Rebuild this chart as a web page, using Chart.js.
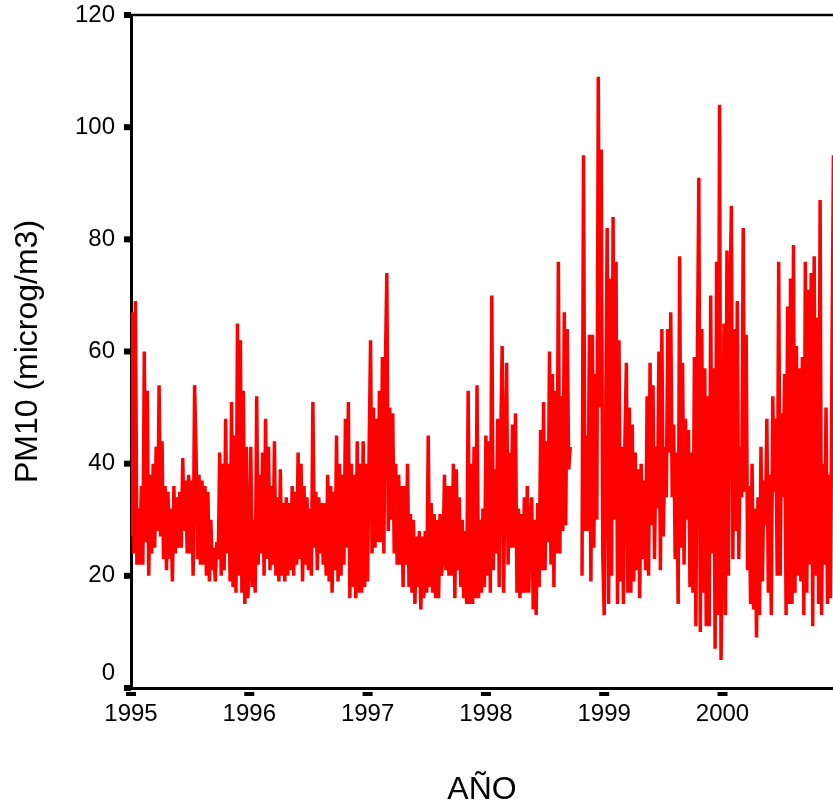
<!DOCTYPE html>
<html>
<head>
<meta charset="utf-8">
<script src="https://cdn.jsdelivr.net/npm/chart.js@4.4.1/dist/chart.umd.min.js"></script>
<style>
  html, body { margin: 0; padding: 0; background: #fff; }
  canvas { display: block; }
</style>
</head>
<body>
<canvas id="c" width="833" height="804"></canvas>
<script>
// ---- Data (PM10, microg/m3) ----
const years = [1995, 1996, 1997, 1998, 1999, 2000];
const samplesPerYear = 80;

const pm1995 = [27,67,24,69,22,32,22,36, 22,60,26,53,20,38,24,40, 25,43,28,54,27,44,23,36,
                21,35,23,32,19,36,24,34, 25,35,25,41,28,37,24,38, 24,37,20,54,42,23,38,22,
                37,22,36,20,35,19,30,21, 25,19,26,23,42,20,40,21, 48,24,40,19,51,18,45,17,
                65,20,62,17,53,15,43,16];
const pm1996 = [22,43,18,30,17,52,22,38, 24,42,20,48,23,43,21,36, 22,44,20,34,19,39,20,33,
                19,34,20,33,21,36,20,35, 22,42,23,40,19,36,22,34, 21,32,20,51,25,35,21,34,
                24,33,22,33,20,38,19,36, 17,35,21,45,19,40,20,38, 22,48,25,51,16,40,18,38,
                16,44,17,40,17,44,18,40];
const pm1997 = [19,42,62,24,50,25,48,26, 53,26,59,24,57,74,28,50, 30,49,24,40,22,38,22,36,
                18,36,22,40,18,31,17,30, 15,27,18,28,14,27,16,28, 17,45,18,33,17,31,16,30,
                16,31,20,24,38,21,36,20, 36,20,40,16,39,21,34,18, 30,16,28,15,53,15,40,15,
                43,16,54,16,30,17,32,18];
const pm1998 = [45,20,44,17,70,21,39,24,48,18, 44,61,17,40,58,22,42,25,47,25,
                49,17,32,16,31,17,34,17,36,17, 30,34,14,30,13,33,18,46,21,51,
                21,44,26,60,22,56,18,53,24,76, 24,52,28,67,29,64,39,43,null,null,
                null,null,null,null,null,20,95,28,45,28, 63,19,63,25,56,30,109,50,96,24];
const pm1999 = [13,47,82,15,73,20,84,30,76,15, 62,19,43,15,44,58,17,50,17,47,
                19,42,21,39,16,40,23,37,21,52, 20,58,29,54,23,43,32,60,21,64,
                27,43,34,64,42,67,34,47,23,42, 15,77,25,58,22,48,30,46,18,42,
                17,59,11,58,91,10,64,17,57,11, 52,11,70,24,57,7,76,13,104,5];
const pm2000 = [26,65,13,78,20,68,86,23,64,28, 69,23,43,34,82,35,63,21,36,15,
                40,14,32,9,34,13,43,19,37,29, 48,17,38,13,52,35,48,20,76,20,
                49,34,56,13,68,15,73,15,79,17, 61,20,57,19,59,13,76,17,71,22,
                74,11,77,20,66,15,87,13,40,22, 50,15,38,16,58,95];

const seriesByYear = [pm1995, pm1996, pm1997, pm1998, pm1999, pm2000];

const xTickYears = [1995, 1996, 1997, 1998, 1999, 2000];
const xTickLabels = ['1995', '1996', '1997', '1998', '1999', '2000'];
const yTickValues = [0, 20, 40, 60, 80, 100, 120];
const yTickLabels = ['0', '20', '40', '60', '80', '100', '120'];

const xTitle = 'AÑO';
const yTitle = 'PM10 (microg/m3)';

// ---- build points (date in decimal years, value) ----
const points = [];
seriesByYear.forEach((vals, k) => {
  vals.forEach((v, i) => points.push({ x: years[k] + i / samplesPerYear, y: v }));
});

const FONT = "'Liberation Sans', Arial, Helvetica, sans-serif";

const axisDecor = {
  id: 'axisDecor',
  afterDraw(chart) {
    const { ctx, chartArea: a, scales: { x, y } } = chart;
    ctx.save();
    ctx.fillStyle = '#000';
    ctx.strokeStyle = '#000';
    ctx.lineWidth = 2.5;
    ctx.beginPath();
    ctx.moveTo(a.left, a.top);
    ctx.lineTo(a.right, a.top);
    ctx.stroke();
    y.ticks.forEach(t => {
      const py = y.getPixelForValue(t.value);
      ctx.fillRect(a.left - 7, py - 3, 7, 6);
    });
    x.ticks.forEach(t => {
      const px = x.getPixelForValue(t.value);
      ctx.fillRect(px - 5, a.bottom + 4, 10, 4);
    });
    ctx.restore();
  }
};

new Chart(document.getElementById('c'), {
  type: 'line',
  data: {
    datasets: [{
      data: points,
      borderColor: '#ff0000',
      borderWidth: 3.5,
      pointRadius: 0,
      tension: 0,
      spanGaps: false,
      fill: false
    }]
  },
  options: {
    responsive: false,
    animation: false,
    devicePixelRatio: 1,
    layout: { padding: { top: 15, right: 0, bottom: 0, left: 0 } },
    plugins: { legend: { display: false }, tooltip: { enabled: false } },
    scales: {
      x: {
        type: 'linear',
        min: 1995,
        max: 2000.934,
        afterFit(scale) { scale.height = 116; scale.paddingLeft = 0; scale.paddingRight = 0; },
        afterBuildTicks(scale) { scale.ticks = xTickYears.map(v => ({ value: v })); },
        grid: { display: false, drawTicks: false },
        border: { display: true, color: '#000', width: 3 },
        ticks: {
          padding: 12,
          color: '#000',
          font: { family: FONT, size: 24 },
          maxRotation: 0,
          autoSkip: false,
          callback: (v, i) => xTickLabels[i]
        },
        title: {
          display: true,
          text: xTitle,
          color: '#000',
          font: { family: FONT, size: 32, lineHeight: 1 },
          padding: { top: 0, bottom: -2 }
        }
      },
      y: {
        min: 0,
        max: 120,
        afterFit(scale) { scale.width = 131; scale.paddingTop = 0; scale.paddingBottom = 0; },
        afterBuildTicks(scale) { scale.ticks = yTickValues.map(v => ({ value: v })); },
        grid: { display: false, drawTicks: false },
        border: { display: true, color: '#000', width: 3 },
        ticks: {
          padding: 16,
          color: '#000',
          font: { family: FONT, size: 24 },
          callback: (v, i) => (yTickValues[i] === 0 ? [yTickLabels[i], ''] : yTickLabels[i])
        },
        title: {
          display: true,
          text: yTitle,
          color: '#000',
          font: { family: FONT, size: 32, lineHeight: 1 },
          padding: { top: 12, bottom: 0 }
        }
      }
    }
  },
  plugins: [axisDecor]
});
</script>
</body>
</html>
